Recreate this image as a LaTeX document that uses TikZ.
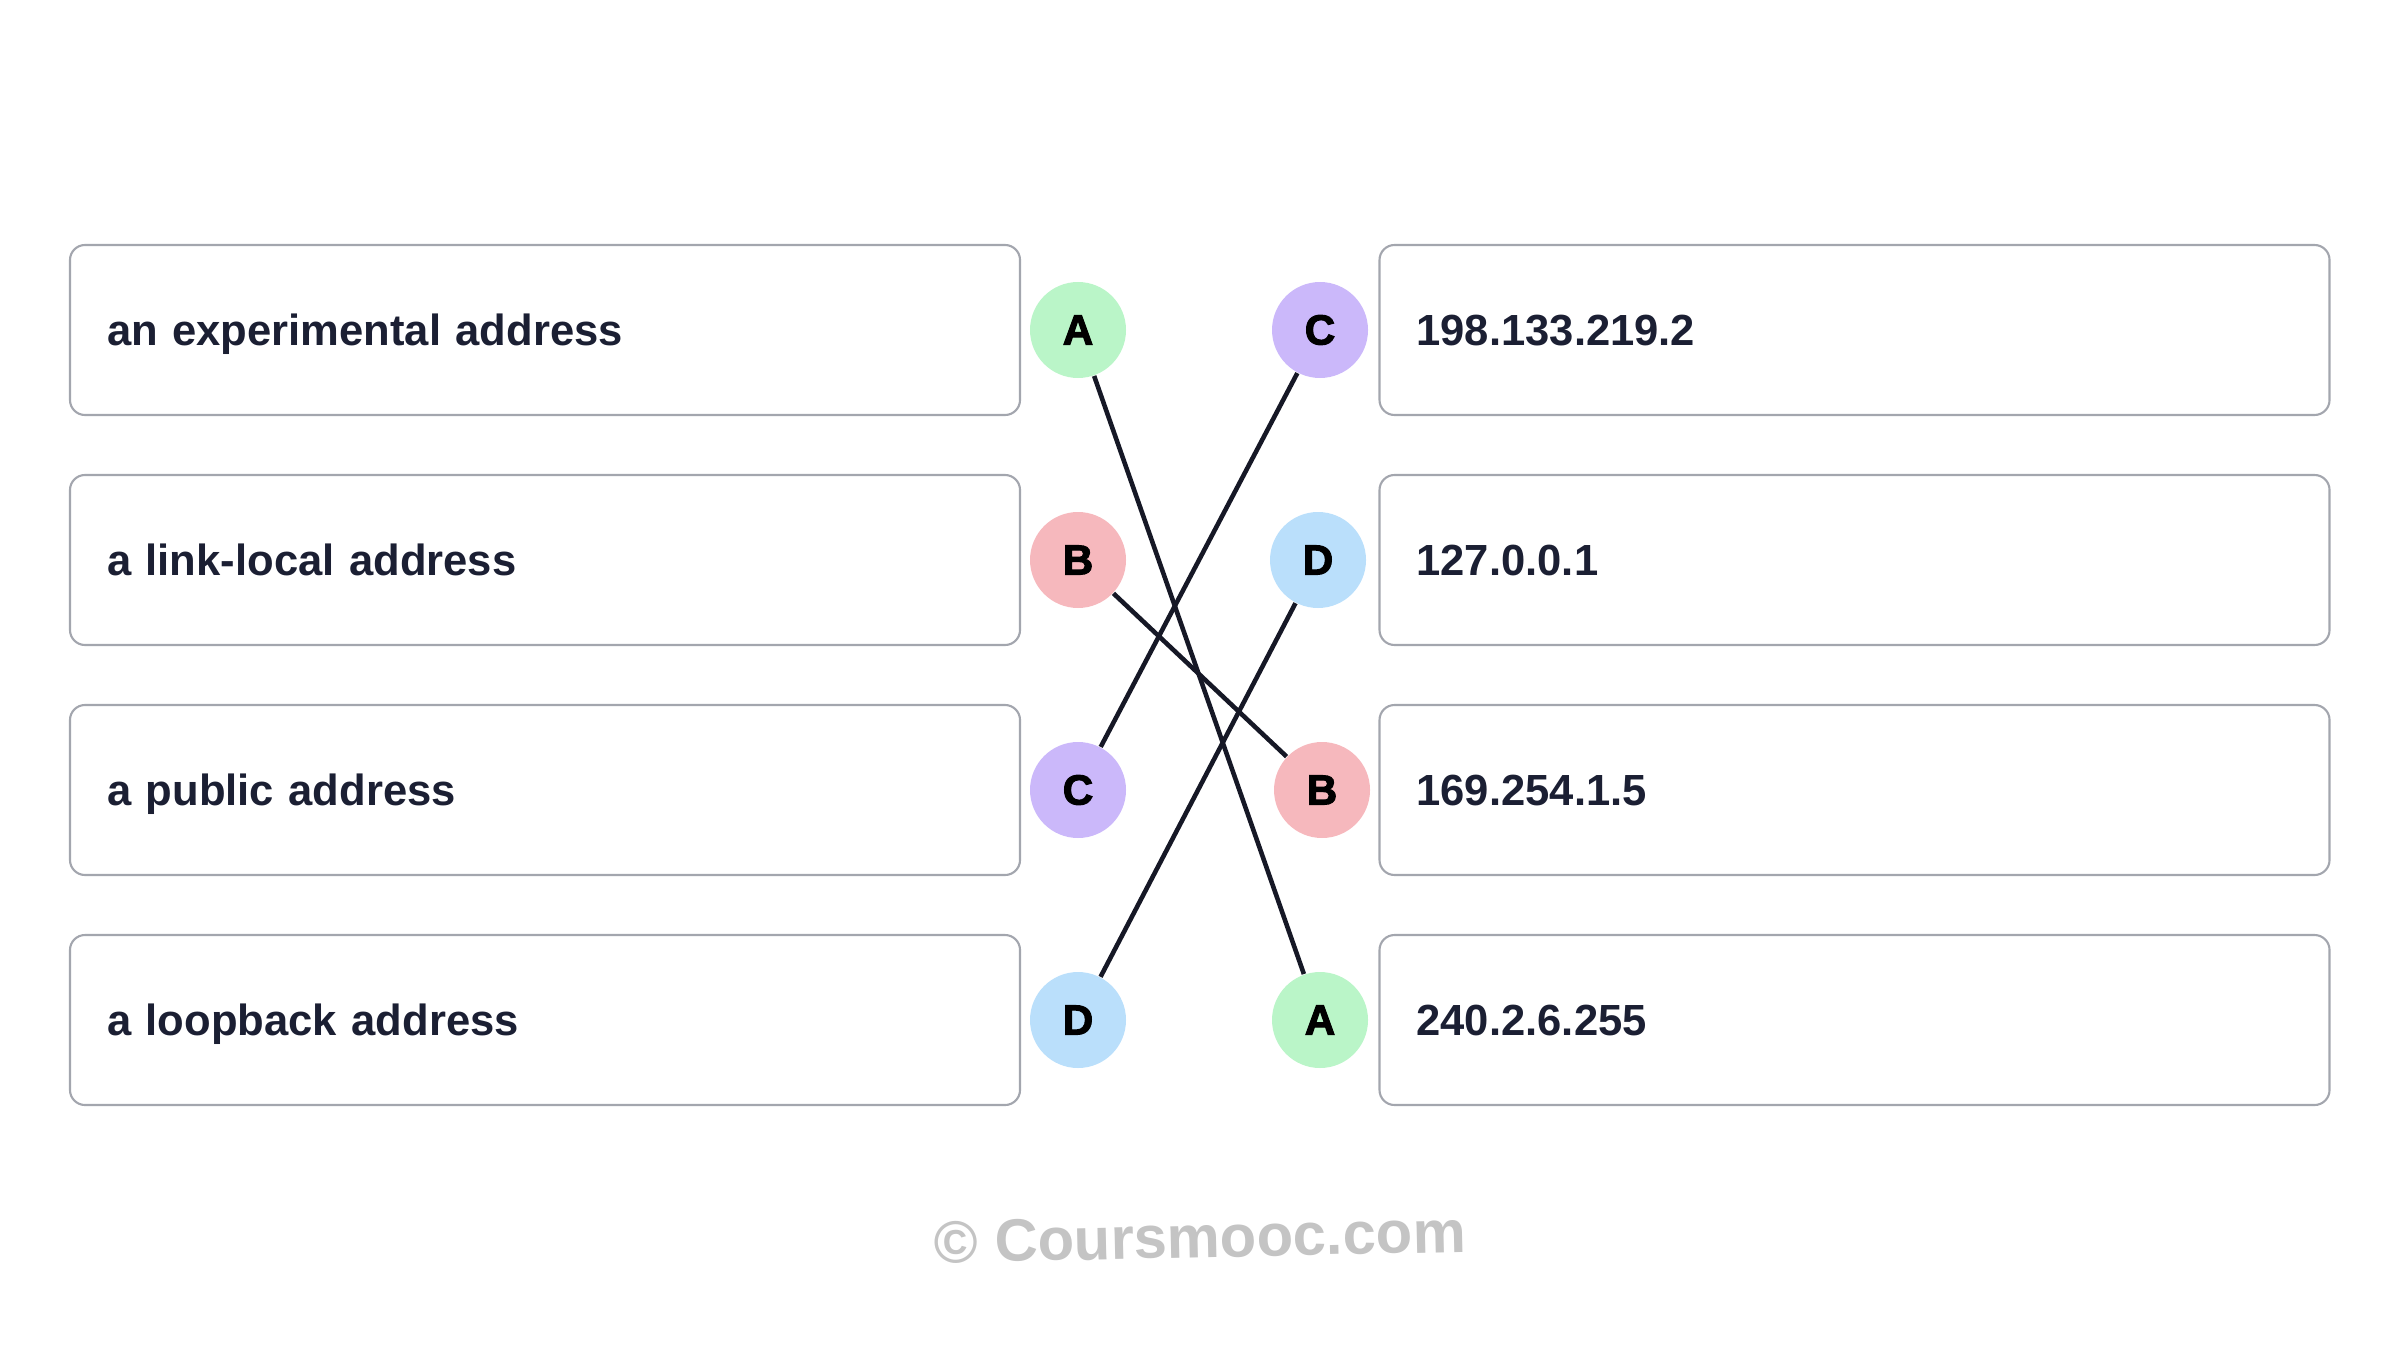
\documentclass[tikz,border=0pt]{standalone}
\usepackage{fontspec}
\setmainfont{Liberation Sans}
\newfontfamily\badgefont{Liberation Sans}[FakeBold=2.5]
\usetikzlibrary{positioning}
\definecolor{ink}{HTML}{1B1F33}
\definecolor{edgegray}{HTML}{A3A6AE}
\definecolor{wire}{HTML}{161826}
\definecolor{cgreen}{HTML}{BAF5C8}
\definecolor{cpink}{HTML}{F6B8BD}
\definecolor{cpurple}{HTML}{CBB8FA}
\definecolor{cblue}{HTML}{BADFFB}
\definecolor{wmgray}{HTML}{C4C4C4}

\begin{document}
\begin{tikzpicture}[node distance=2.3cm,on grid,
    item/.style={draw=edgegray,line width=0.6pt,rounded corners=0.15cm,
      minimum height=1.7cm,text width=8.76cm,inner xsep=0.37cm,align=left,
      text height=0.86em,text depth=0pt,
      font=\bfseries\fontsize{12.4}{14}\selectfont,text=ink},
    badge/.style={circle,minimum size=0.96cm,inner sep=0pt,
      font=\badgefont\bfseries\fontsize{12}{14}\selectfont,text=black},
    wmark/.style={font=\bfseries\fontsize{17}{20}\selectfont,text=wmgray}]
  \useasboundingbox (0,0) rectangle (24,13.5);

  % left column
  \node[item] (exp) at (5.45,10.2) {an experimental address};
  \node[item] (link) [below=of exp] {a link-local address};
  \node[item] (pub) [below=of link] {a public address};
  \node[item] (loop) [below=of pub] {a loopback address};

  \node[badge,fill=cgreen] (lA) [right=5.33cm of exp] {A};
  \node[badge,fill=cpink] (lB) [right=5.33cm of link] {B};
  \node[badge,fill=cpurple] (lC) [right=5.33cm of pub] {C};
  \node[badge,fill=cblue] (lD) [right=5.33cm of loop] {D};

  % right column
  \node[badge,fill=cpurple] (rC) [right=2.42cm of lA] {C};
  \node[badge,fill=cblue] (rD) [right=2.4cm of lB] {D};
  \node[badge,fill=cpink] (rB) [right=2.44cm of lC] {B};
  \node[badge,fill=cgreen] (rA) [right=2.42cm of lD] {A};

  \node[item] (ipa) [right=5.345cm of rC] {198.133.219.2};
  \node[item] (ipb) at (ipa |- link) {127.0.0.1};
  \node[item] (ipc) at (ipa |- pub) {169.254.1.5};
  \node[item] (ipd) at (ipa |- loop) {240.2.6.255};

  \path[draw=wire,line width=1.3pt]
    (lA) edge (rA)
    (lB) edge (rB)
    (lC) edge (rC)
    (lD) edge (rD);

  \node[wmark,rotate=1.2] (site) at (12.0,1.13) {© Coursmooc.com};
\end{tikzpicture}
\end{document}
